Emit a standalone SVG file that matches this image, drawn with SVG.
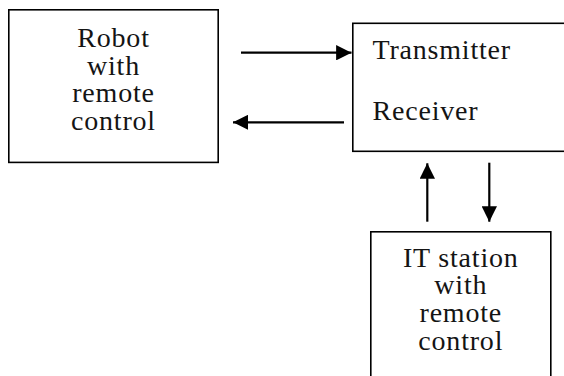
<svg xmlns="http://www.w3.org/2000/svg" width="564" height="376" viewBox="0 0 564 376">
  <style>
    .box { fill: #ffffff; stroke: #000000; stroke-width: 1.6; }
    .lbl { font-family: "Liberation Serif", "Times New Roman", serif; font-size: 28px; letter-spacing: 0.8px; fill: #141414; }
    .mid { text-anchor: middle; }
    .conn { stroke: #000000; stroke-width: 2.2; fill: none; }
  </style>
  <defs>
    <marker id="head" viewBox="0 0 10 10" refX="10" refY="5" markerWidth="7" markerHeight="7" markerUnits="strokeWidth" orient="auto">
      <path d="M0,0 L10,5 L0,10 Z" fill="#000000"/>
    </marker>
  </defs>
  <rect width="564" height="376" fill="#ffffff"/>

  <!-- left block -->
  <g id="robot">
    <rect class="box" x="8.8" y="9.8" width="209.4" height="152.6"/>
    <text class="lbl mid" x="113.5" y="46.5">Robot</text>
    <text class="lbl mid" x="113.5" y="74.5">with</text>
    <text class="lbl mid" x="113.5" y="102">remote</text>
    <text class="lbl mid" x="113.5" y="129.5">control</text>
  </g>

  <!-- right block, its right edge runs off the canvas -->
  <g id="transceiver">
    <rect class="box" x="352.8" y="23.3" width="214" height="128"/>
    <text class="lbl" x="372.5" y="59">Transmitter</text>
    <text class="lbl" x="372.5" y="120">Receiver</text>
  </g>

  <!-- bottom block, its lower edge runs off the canvas -->
  <g id="it-station">
    <rect class="box" x="370.8" y="231.8" width="180" height="150"/>
    <text class="lbl mid" x="460.8" y="266.5">IT station</text>
    <text class="lbl mid" x="460.8" y="294">with</text>
    <text class="lbl mid" x="460.8" y="322">remote</text>
    <text class="lbl mid" x="460.8" y="350">control</text>
  </g>

  <g id="connectors">
    <line class="conn" x1="241" y1="52.7" x2="351.5" y2="52.7" marker-end="url(#head)"/>
    <line class="conn" x1="344" y1="122.3" x2="233" y2="122.3" marker-end="url(#head)"/>
    <line class="conn" x1="427.3" y1="221.7" x2="427.3" y2="163.3" marker-end="url(#head)"/>
    <line class="conn" x1="489.3" y1="162.7" x2="489.3" y2="221.7" marker-end="url(#head)"/>
  </g>
</svg>
